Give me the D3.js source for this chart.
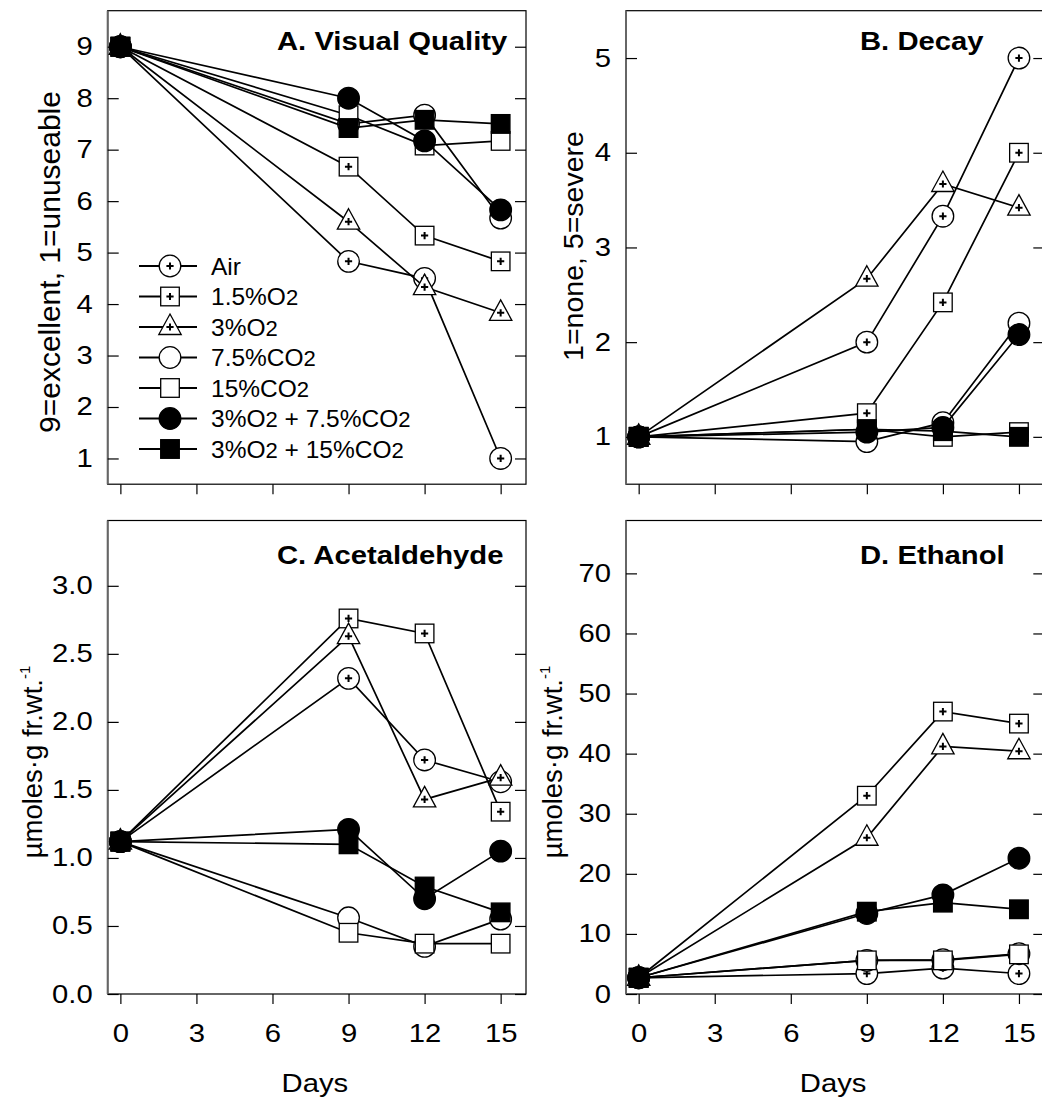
<!DOCTYPE html>
<html>
<head>
<meta charset="utf-8">
<script src="https://cdn.jsdelivr.net/npm/d3@7"></script>
<style>
  body { margin: 0; background: #fff; }
  svg { display: block; }
  text { font-family: "Liberation Sans", Arial, sans-serif; fill: #000; }
</style>
</head>
<body>
<div id="chart"></div>
<script>
// ---- data ----
const days = [0, 9, 12, 15];
const dayTicks = [0, 3, 6, 9, 12, 15];
const seriesNames = ["Air", "1.5%O2", "3%O2", "7.5%CO2", "15%CO2", "3%O2 + 7.5%CO2", "3%O2 + 15%CO2"];

const visualQuality = [
  [9, 4.83, 4.5, 1.0],
  [9, 6.67, 5.33, 4.83],
  [9, 5.6, 4.33, 3.83],
  [9, 7.5, 7.67, 5.67],
  [9, 7.67, 7.08, 7.17],
  [9, 8.0, 7.17, 5.83],
  [9, 7.42, 7.58, 7.5]
];
const decay = [
  [1, 2.0, 3.33, 5.0],
  [1, 1.25, 2.42, 4.0],
  [1, 2.67, 3.67, 3.42],
  [1, 0.95, 1.15, 2.2],
  [1, 1.08, 1.0, 1.05],
  [1, 1.05, 1.1, 2.08],
  [1, 1.08, 1.06, 1.0]
];
const acetaldehyde = [
  [1.12, 2.32, 1.72, 1.56],
  [1.12, 2.76, 2.65, 1.34],
  [1.12, 2.63, 1.43, 1.59],
  [1.12, 0.56, 0.35, 0.55],
  [1.12, 0.45, 0.37, 0.37],
  [1.12, 1.21, 0.7, 1.05],
  [1.12, 1.1, 0.79, 0.6]
];
const ethanol = [
  [2.7, 3.4, 4.3, 3.4],
  [2.7, 33, 47, 45],
  [2.7, 26, 41.2, 40.4],
  [2.7, 5.6, 5.7, 6.7],
  [2.7, 5.6, 5.6, 6.6],
  [2.7, 13.4, 16.5, 22.6],
  [2.7, 13.7, 15.2, 14.1]
];

const qualityTicks = [1, 2, 3, 4, 5, 6, 7, 8, 9];
const decayTicks = [1, 2, 3, 4, 5];
const acetTicks = [0, 0.5, 1.0, 1.5, 2.0, 2.5, 3.0];
const ethanolTicks = [0, 10, 20, 30, 40, 50, 60, 70];

// marker style per series
const shapes = ["circle", "square", "triangle", "circle", "square", "circle", "square"];
const filled = [false, false, false, false, false, true, true];
const withPlus = [true, true, true, false, false, false, false];

// ---- layout ----
const W = 1042, H = 1104;
const panelW = 418.3, panelH = 473.5;
const STRETCH = 1.17;

const svg = d3.select("#chart").append("svg")
  .attr("width", W).attr("height", H);

function stretch(sel, k) {
  sel.each(function () {
    const w = this.getComputedTextLength();
    d3.select(this).attr("textLength", w * k).attr("lengthAdjust", "spacingAndGlyphs");
  });
}

// writes "O2" style labels with a slightly smaller 2
function richLabel(textSel, str) {
  const parts = str.split(/(2)(?=\s|$)/);
  parts.forEach(p => {
    if (p === "") return;
    const t = textSel.append("tspan").text(p);
    if (p === "2") t.style("font-size", "0.9em");
  });
}

function drawMarker(g, shape, isFilled, plus) {
  const fill = isFilled ? "#000" : "#fff";
  if (shape === "circle") {
    g.append("circle").attr("r", 10.8).attr("fill", fill).attr("stroke", "#000").attr("stroke-width", 1.3);
  } else if (shape === "square") {
    g.append("rect").attr("x", -9.3).attr("y", -9.3).attr("width", 18.6).attr("height", 18.6)
      .attr("fill", fill).attr("stroke", "#000").attr("stroke-width", 1.3);
  } else {
    g.append("path").attr("d", "M0,-13L11.2,7.5L-11.2,7.5Z")
      .attr("fill", fill).attr("stroke", "#000").attr("stroke-width", 1.3);
  }
  if (plus) {
    g.append("path").attr("d", "M-3.6,0H3.6M0,-3.6V3.6")
      .attr("stroke", "#000").attr("stroke-width", 2).attr("fill", "none");
  }
}

const panels = [
  { values: visualQuality, yDomain: [0.5, 9.7], ticks: qualityTicks, fmt: d3.format("d"),
    left: 107.7, top: 10.7, title: "A. Visual Quality", titleX: 277, titleY: 49.5,
    ylabel: "9=excellent, 1=unuseable", ylabelX: 60, ylabelY: 262, ylabelSize: 30, xLabels: false, legend: true },
  { values: decay, yDomain: [0.5, 5.5], ticks: decayTicks, fmt: d3.format("d"),
    left: 626, top: 10.7, title: "B. Decay", titleX: 860, titleY: 49.5,
    ylabel: "1=none, 5=severe", ylabelX: 583, ylabelY: 246, ylabelSize: 28.5, xLabels: false },
  { values: acetaldehyde, yDomain: [0, 3.48], ticks: acetTicks, fmt: d3.format(".1f"),
    left: 107.7, top: 520.5, title: "C. Acetaldehyde", titleX: 277, titleY: 564,
    ylabel: "µmoles·g fr.wt.", ylabelX: 42, ylabelY: 762, ylabelSize: 27.5, sup: true, xLabels: true },
  { values: ethanol, yDomain: [0, 78.8], ticks: ethanolTicks, fmt: d3.format("d"),
    left: 626, top: 520.5, title: "D. Ethanol", titleX: 860, titleY: 564,
    ylabel: "µmoles·g fr.wt.", ylabelX: 562, ylabelY: 762, ylabelSize: 27.5, sup: true, xLabels: true }
];

panels.forEach(p => {
  const x = d3.scaleLinear().domain([-0.5, 16]).range([p.left, p.left + panelW]);
  const y = d3.scaleLinear().domain(p.yDomain).range([p.top + panelH, p.top]);
  const g = svg.append("g");

  // frame
  g.append("rect")
    .attr("x", p.left).attr("y", p.top).attr("width", panelW).attr("height", panelH)
    .attr("fill", "none").attr("stroke", "#000").attr("stroke-width", 1.2);
  g.append("line")
    .attr("x1", p.left).attr("x2", p.left).attr("y1", p.top).attr("y2", p.top + panelH)
    .attr("stroke", "#666").attr("stroke-width", 2);

  // left axis (ticks inside)
  const yAxisG = g.append("g").attr("transform", `translate(${p.left},0)`)
    .call(d3.axisLeft(y).tickValues(p.ticks).tickFormat(p.fmt).tickSize(-11).tickPadding(15));
  yAxisG.select(".domain").remove();
  yAxisG.selectAll("line").attr("stroke", "#000").attr("stroke-width", 1.2);
  yAxisG.selectAll("text").attr("font-size", 25).attr("fill", "#000")
    .attr("font-family", "Liberation Sans, Arial, sans-serif");
  stretch(yAxisG.selectAll("text"), STRETCH);

  // right axis (ticks inside, no labels)
  const rAxisG = g.append("g").attr("transform", `translate(${p.left + panelW},0)`)
    .call(d3.axisRight(y).tickValues(p.ticks).tickFormat("").tickSize(-11));
  rAxisG.select(".domain").remove();
  rAxisG.selectAll("line").attr("stroke", "#000").attr("stroke-width", 1.2);

  // bottom axis (ticks outside)
  const xAxisG = g.append("g").attr("transform", `translate(0,${p.top + panelH})`)
    .call(d3.axisBottom(x).tickValues(dayTicks).tickFormat(p.xLabels ? d3.format("d") : "").tickSize(10).tickPadding(20));
  xAxisG.select(".domain").remove();
  xAxisG.selectAll("line").attr("stroke", "#000").attr("stroke-width", 1.2);
  xAxisG.selectAll("text").attr("font-size", 25).attr("fill", "#000")
    .attr("font-family", "Liberation Sans, Arial, sans-serif");
  if (p.xLabels) {
    stretch(xAxisG.selectAll("text"), STRETCH);
    const dl = g.append("text")
      .attr("x", p.left + panelW / 2 - 2).attr("y", p.top + panelH + 98)
      .attr("text-anchor", "middle").attr("font-size", 25).text("Days");
    stretch(dl, STRETCH);
  }

  // panel title
  const t = g.append("text").attr("x", p.titleX).attr("y", p.titleY)
    .attr("font-size", 25).attr("font-weight", "bold").text(p.title);
  stretch(t, STRETCH);

  // y axis title
  const yl = g.append("text")
    .attr("transform", `translate(${p.ylabelX},${p.ylabelY}) rotate(-90)`)
    .attr("text-anchor", "middle").attr("font-size", p.ylabelSize);
  yl.append("tspan").text(p.ylabel);
  if (p.sup) {
    yl.append("tspan").attr("dy", -12).attr("font-size", 15).text("-1");
  }

  // series
  const line = d3.line().x(d => x(d.day)).y(d => y(d.v));
  p.values.forEach((vals, i) => {
    const pts = days.map((d, j) => ({ day: d, v: vals[j] }));
    const sg = g.append("g").attr("class", "series");
    sg.append("path").datum(pts).attr("d", line)
      .attr("fill", "none").attr("stroke", "#000").attr("stroke-width", 1.7);
    sg.selectAll("g.pt").data(pts).join("g").attr("class", "pt")
      .attr("transform", d => `translate(${x(d.day)},${y(d.v)})`)
      .each(function () { drawMarker(d3.select(this), shapes[i], filled[i], withPlus[i]); });
  });

  // legend
  if (p.legend) {
    const lg = g.append("g");
    seriesNames.forEach((name, i) => {
      const ry = 266 + i * 30.5;
      const row = lg.append("g");
      row.append("line").attr("x1", 139).attr("x2", 197).attr("y1", ry).attr("y2", ry)
        .attr("stroke", "#000").attr("stroke-width", 1.8);
      const mg = row.append("g").attr("transform", `translate(170,${ry})`);
      drawMarker(mg, shapes[i], filled[i], withPlus[i]);
      const tx = row.append("text").attr("x", 211).attr("y", ry).attr("dy", "0.36em")
        .attr("font-size", 24.5);
      richLabel(tx, name);
    });
  }
});
</script>
</body>
</html>
